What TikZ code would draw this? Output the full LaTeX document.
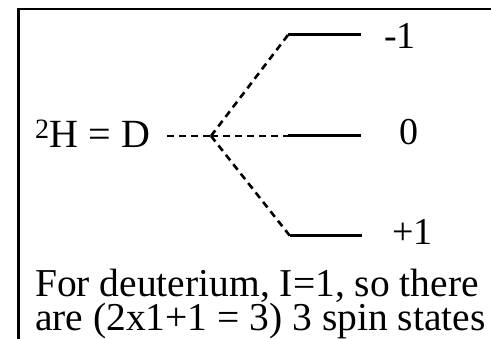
\documentclass[tikz,border=0pt]{standalone}
\usepackage{fontspec}
\setmainfont{Liberation Serif}
\begin{document}
\begin{tikzpicture}[x=1pt,y=-1pt,
  frameline/.style={line width=2.6pt,line cap=rect},
  level/.style={line width=3pt},
  split/.style={line width=2.6pt,dash pattern=on 7pt off 5pt},
  lbl/.style={inner sep=0pt,anchor=base west,font=\fontsize{38}{40}\selectfont},
  note/.style={inner sep=0pt,anchor=base west,font=\fontsize{39.5}{32}\selectfont}]
\useasboundingbox (0,0) rectangle (491,339);
\draw[frameline] (18.5,345) -- (18.5,9) -- (495,9);
% text
\node[lbl,font=\fontsize{40}{42}\selectfont] (d) at (35,148) {\textsuperscript{2}H = D};
\node[lbl] (m1) at (384,49) {-1};
\node[lbl] (z) at (399,145) {0};
\node[lbl] (p1) at (392,245) {+1};
\node[note] (t1) at (35,297) {For deuterium, I=1, so there};
\node[note] (t2) at (35,331) {are (2x1+1 = 3) 3 spin states};
% coordinates
\coordinate (s) at (167,136);
\coordinate (j) at (211,136);
\coordinate (a1) at (288,35);
\coordinate (b1) at (361,35);
\coordinate (a0) at (288,136);
\coordinate (b0) at (361,136);
\coordinate (a2) at (290,236);
\coordinate (b2) at (362,236);
% levels
\draw[level] (a1) -- (b1);
\draw[level] (a0) -- (b0);
\draw[level] (a2) -- (b2);
% dashed splitting
\draw[split] (s) -- (j);
\draw[split] (j) -- (a1);
\draw[split] (j) -- (a0);
\draw[split] (j) -- (a2);
\end{tikzpicture}
\end{document}
